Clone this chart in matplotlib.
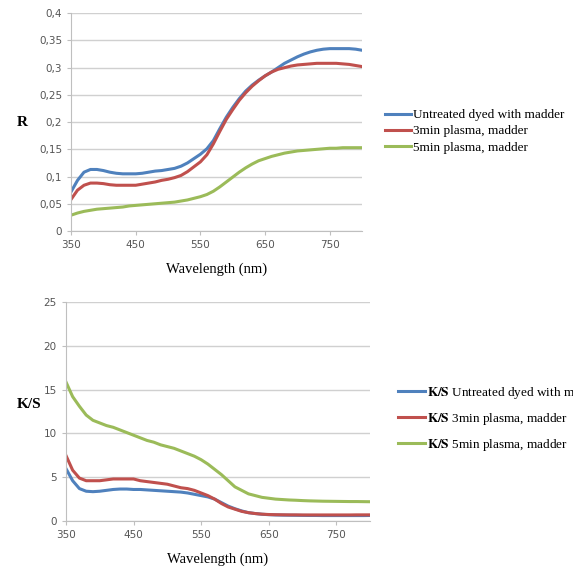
import numpy as np
import matplotlib.pyplot as plt
from matplotlib.ticker import FuncFormatter

plt.rcParams["mathtext.fontset"] = "stix"

# Wavelength grid (nm)
wavelength = list(range(350, 801, 10))

# Reflectance R
r_untreated = [0.072, 0.093, 0.108, 0.113, 0.113, 0.111, 0.108, 0.106, 0.105, 0.105,
               0.105, 0.106, 0.108, 0.110, 0.111, 0.113, 0.115, 0.119, 0.125, 0.133,
               0.141, 0.151, 0.166, 0.188, 0.209, 0.227, 0.243, 0.257, 0.268, 0.277,
               0.285, 0.292, 0.300, 0.308, 0.314, 0.320, 0.325, 0.329, 0.332, 0.334,
               0.335, 0.335, 0.335, 0.335, 0.334, 0.332]
r_3min = [0.058, 0.075, 0.084, 0.088, 0.088, 0.087, 0.085, 0.084, 0.084, 0.084,
          0.084, 0.086, 0.088, 0.090, 0.093, 0.095, 0.098, 0.102, 0.109, 0.118,
          0.127, 0.140, 0.160, 0.183, 0.205, 0.223, 0.240, 0.254, 0.266, 0.276,
          0.285, 0.292, 0.297, 0.300, 0.303, 0.305, 0.306, 0.307, 0.308, 0.308,
          0.308, 0.308, 0.307, 0.306, 0.304, 0.302]
r_5min = [0.029, 0.033, 0.036, 0.038, 0.040, 0.041, 0.042, 0.043, 0.044, 0.046,
          0.047, 0.048, 0.049, 0.050, 0.051, 0.052, 0.053, 0.055, 0.057, 0.060,
          0.063, 0.067, 0.073, 0.081, 0.090, 0.099, 0.108, 0.116, 0.123, 0.129,
          0.133, 0.137, 0.140, 0.143, 0.145, 0.147, 0.148, 0.149, 0.150, 0.151,
          0.152, 0.152, 0.153, 0.153, 0.153, 0.153]

# K/S
ks_untreated = [6.0, 4.6, 3.7, 3.4, 3.35, 3.4, 3.5, 3.6, 3.65, 3.65,
                3.6, 3.6, 3.55, 3.5, 3.45, 3.4, 3.35, 3.3, 3.2, 3.05,
                2.9, 2.75, 2.5, 2.1, 1.7, 1.4, 1.15, 0.95, 0.85, 0.77,
                0.72, 0.69, 0.67, 0.66, 0.65, 0.64, 0.63, 0.63, 0.62, 0.62,
                0.62, 0.62, 0.62, 0.62, 0.62, 0.63]
ks_3min = [7.5, 5.8, 4.9, 4.6, 4.6, 4.6, 4.7, 4.8, 4.8, 4.8,
           4.8, 4.6, 4.5, 4.4, 4.3, 4.2, 4.0, 3.8, 3.7, 3.5,
           3.2, 2.9, 2.5, 2.0, 1.6, 1.35, 1.1, 0.95, 0.85, 0.78,
           0.74, 0.72, 0.71, 0.70, 0.70, 0.69, 0.69, 0.69, 0.69, 0.69,
           0.69, 0.69, 0.69, 0.70, 0.70, 0.70]
ks_5min = [15.9, 14.2, 13.1, 12.1, 11.5, 11.2, 10.9, 10.7, 10.4, 10.1,
           9.8, 9.5, 9.2, 9.0, 8.7, 8.5, 8.3, 8.0, 7.7, 7.4,
           7.0, 6.5, 5.9, 5.3, 4.6, 3.9, 3.5, 3.1, 2.9, 2.7,
           2.6, 2.5, 2.45, 2.4, 2.37, 2.33, 2.3, 2.28, 2.26, 2.25,
           2.24, 2.23, 2.22, 2.22, 2.21, 2.2]

labels = ["Untreated dyed with madder", "3min plasma, madder", "5min plasma, madder"]
colors = ["#4F81BD", "#C0504D", "#9BBB59"]
x_ticks = [350, 450, 550, 650, 750]

serif = "Liberation Serif"


def style_axes(ax):
    for s in ["top", "right"]:
        ax.spines[s].set_visible(False)
    for s in ["left", "bottom"]:
        ax.spines[s].set_color("#bfbfbf")
    ax.grid(axis="y", color="#d0d0d0", linewidth=1)
    ax.set_axisbelow(True)
    ax.tick_params(colors="#bfbfbf", labelcolor="#555555", labelsize=7.5, length=3)
    ax.set_xlim(350, 800)
    ax.set_xticks(x_ticks)


fig = plt.figure(figsize=(5.73, 5.76), dpi=100)

# top: reflectance
ax1 = fig.add_axes([0.124, 0.599, 0.508, 0.378])
for y, lab, c in zip([r_untreated, r_3min, r_5min], labels, colors):
    ax1.plot(wavelength, y, color=c, lw=2.2, label=lab)
style_axes(ax1)
ax1.set_ylim(0, 0.4)
ax1.set_yticks(np.arange(0, 0.41, 0.05))
ax1.yaxis.set_major_formatter(FuncFormatter(lambda v, p: ("%g" % round(v, 2)).replace(".", ",")))
ax1.set_xlabel("Wavelength (nm)", family=serif, fontsize=10.5, labelpad=9)
fig.text(0.03, 0.787, "R", family=serif, fontsize=11, fontweight="bold", va="center")
ax1.legend(loc="center left", bbox_to_anchor=(0.672, 0.772), bbox_transform=fig.transFigure,
           frameon=False, prop={"family": serif, "size": 9.5}, handlelength=2.0,
           handletextpad=0.15, labelspacing=0.3, borderaxespad=0, borderpad=0)

# bottom: K/S
ax2 = fig.add_axes([0.115, 0.0955, 0.531, 0.380])
for y, lab, c in zip([ks_untreated, ks_3min, ks_5min], labels, colors):
    ax2.plot(wavelength, y, color=c, lw=2.2, label=r"$\mathbf{K/S}$ " + lab)
style_axes(ax2)
ax2.set_ylim(0, 25)
ax2.set_yticks([0, 5, 10, 15, 20, 25])
ax2.set_xlabel("Wavelength (nm)", family=serif, fontsize=10.5, labelpad=9)
fig.text(0.03, 0.297, "K/S", family=serif, fontsize=11, fontweight="bold", va="center")
ax2.legend(loc="center left", bbox_to_anchor=(0.695, 0.273), bbox_transform=fig.transFigure,
           frameon=False, prop={"family": serif, "size": 9.5}, handlelength=2.0,
           handletextpad=0.15, labelspacing=0.75, borderaxespad=0, borderpad=0)

fig.savefig("out.png", dpi=100)
